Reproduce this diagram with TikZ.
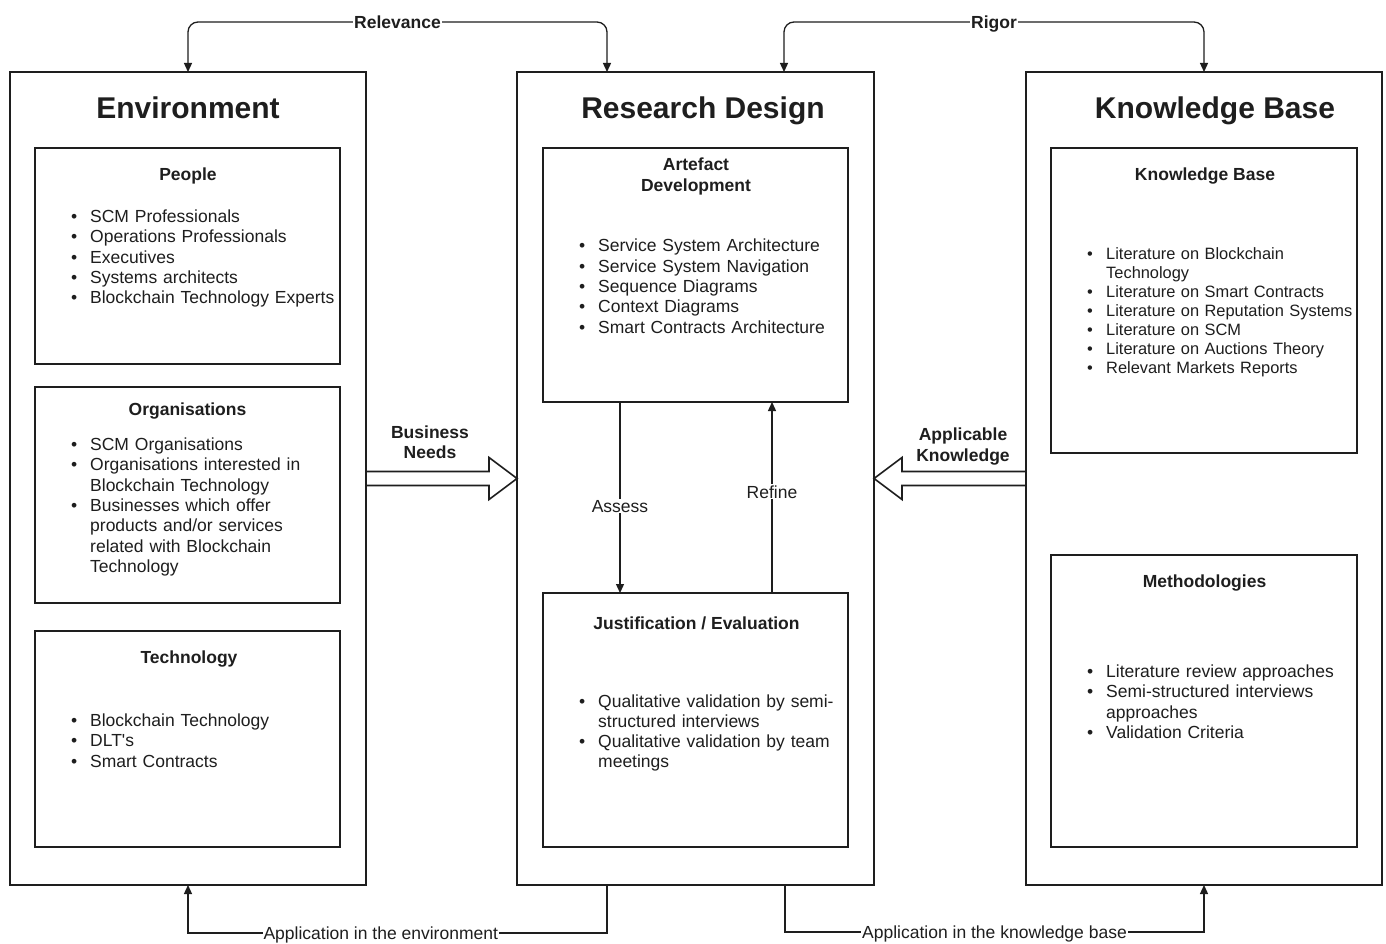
\documentclass[tikz,border=0pt]{standalone}
\usepackage{fontspec}
\setmainfont{Liberation Sans}
\usetikzlibrary{arrows.meta,calc}
\definecolor{ink}{HTML}{1E1E1E}
\newlength{\blhang}
\setlength{\blhang}{19pt}
% one bullet item with a hanging indent for wrapped lines
\newcommand{\bli}[1]{\par\noindent\hangindent=\blhang\hangafter=1\makebox[\blhang][l]{\textbullet}\strut#1}
\newcommand{\fbody}{\fontsize{17.5}{20.3}\selectfont}
\newcommand{\fsmall}{\fontsize{16.4}{19}\selectfont}
\newcommand{\ftitle}{\fontsize{30}{36}\selectfont\bfseries}
\begin{document}
\begin{tikzpicture}[x=1pt,y=-1pt,
  every node/.style={text=ink},
  panel/.style={draw=ink, line width=1.3pt, inner sep=0pt, outer sep=0pt},
  title/.style={font=\ftitle, inner sep=0pt, anchor=base},
  head/.style={font=\fbody\bfseries, inner sep=0pt, anchor=base},
  blist/.style={font=\fbody, inner sep=0pt, anchor=north west, text width=300pt, align=left},
  slist/.style={font=\fsmall, inner sep=0pt, anchor=north west, text width=300pt, align=left},
  conn/.style={draw=ink, line width=1.3pt},
  tip/.style={-{Triangle[length=9pt,width=8pt]}},
  lbl/.style={font=\fbody, fill=white, inner sep=1pt, text height=12.6pt, text depth=0pt},
  blbl/.style={lbl, font=\fbody\bfseries},
  barrow/.style={draw=ink, line width=1.6pt, fill=white, line join=miter}
]
\fill[white] (0,0) rectangle (1386,944);
\useasboundingbox (0,0) rectangle (1386,944);

% the three main panels
\node[panel, minimum width=356pt, minimum height=813pt] (env) at (188,478.5) {};
\node[panel, minimum width=357pt, minimum height=813pt] (rd)  at (695.5,478.5) {};
\node[panel, minimum width=356pt, minimum height=813pt] (kb)  at (1204,478.5) {};

\node[title] (envt) at (188,119) {Environment};
\node[title] (rdt)  at (703,119) {Research Design};
\node[title] (kbt)  at (1215,119) {Knowledge Base};

% Environment
\node[panel, minimum width=305pt, minimum height=216pt] (people) at (187.5,256) {};
\node[panel, minimum width=305pt, minimum height=216pt] (orgs)   at (187.5,495) {};
\node[panel, minimum width=305pt, minimum height=216pt] (tech)   at (187.5,739) {};

\node[head] (peopleh) at (188,180.5) {People};
\node[blist] (peoplel) at (71,202) {%
  \bli{SCM Professionals}
  \bli{Operations Professionals}
  \bli{Executives}
  \bli{Systems architects}
  \bli{Blockchain Technology Experts}\par};

\node[head] (orgsh) at (187.5,415.5) {Organisations};
\node[blist] (orgsl) at (71,430) {%
  \bli{SCM Organisations}
  \bli{Organisations interested in\newline Blockchain Technology}
  \bli{Businesses which offer\newline products and/or services\newline related with Blockchain\newline Technology}\par};

\node[head] (techh) at (189,663.5) {Technology};
\node[blist] (techl) at (71,706) {%
  \bli{Blockchain Technology}
  \bli{DLT\textquotesingle s}
  \bli{Smart Contracts}\par};

% Research Design
\node[panel, minimum width=305pt, minimum height=254pt] (art) at (695.5,275) {};
\node[panel, minimum width=305pt, minimum height=254pt] (jus) at (695.5,720) {};

\node[font=\fbody\bfseries, inner sep=0pt, align=center] (arth) at (696,176.5) {Artefact\\Development};
\node[blist] (artl) at (579,231.5) {%
  \bli{Service System Architecture}
  \bli{Service System Navigation}
  \bli{Sequence Diagrams}
  \bli{Context Diagrams}
  \bli{Smart Contracts Architecture}\par};

\node[head] (jush) at (696.5,629.5) {Justification / Evaluation};
\node[blist] (jusl) at (579,686.5) {%
  \bli{Qualitative validation by semi-\newline structured interviews}
  \bli{Qualitative validation by team\newline meetings}\par};

\draw[conn, tip] ([xshift=77pt]art.south west) -- node[lbl, pos=0.545] (assess) {Assess} ([xshift=77pt]jus.north west);
\draw[conn, tip] ([xshift=229pt]jus.north west) -- node[lbl, pos=0.53] (refine) {Refine} ([xshift=229pt]art.south west);

% Knowledge Base
\node[panel, minimum width=306pt, minimum height=305pt] (kbl)  at (1204,300.5) {};
\node[panel, minimum width=306pt, minimum height=292pt] (meth) at (1204,701) {};

\node[head] (kblh) at (1205,180.5) {Knowledge Base};
\node[slist] (kbll) at (1087,240.5) {%
  \bli{Literature on Blockchain\newline Technology}
  \bli{Literature on Smart Contracts}
  \bli{Literature on Reputation Systems}
  \bli{Literature on SCM}
  \bli{Literature on Auctions Theory}
  \bli{Relevant Markets Reports}\par};

\node[head] (methh) at (1204.5,587.5) {Methodologies};
\node[blist] (methl) at (1087,657) {%
  \bli{Literature review approaches}
  \bli{Semi-structured interviews\newline approaches}
  \bli{Validation Criteria}\par};

% block arrows between the panels
\draw[barrow] ([yshift=7pt]env.east) -| ([xshift=-28pt,yshift=21pt]rd.west) -- (rd.west)
  -- ([xshift=-28pt,yshift=-21pt]rd.west) |- ([yshift=-7pt]env.east) -- cycle;
\node[font=\fbody\bfseries, inner sep=0pt, align=center] (bneeds) at (430,442.5) {Business\\Needs};

\draw[barrow] ([yshift=7pt]kb.west) -| ([xshift=28pt,yshift=21pt]rd.east) -- (rd.east)
  -- ([xshift=28pt,yshift=-21pt]rd.east) |- ([yshift=-7pt]kb.west) -- cycle;
\node[font=\fbody\bfseries, inner sep=0pt, align=center] (aknow) at (963,446.5) {Applicable\\Knowledge};

% cycles above and below
\draw[conn, {Triangle[length=9pt,width=8pt]}-{Triangle[length=9pt,width=8pt]}, rounded corners=10pt]
  (env.north) -- ++(0,-50) -| node[blbl, pos=0.25] (relev) {Relevance} ([xshift=90pt]rd.north west);
\draw[conn, {Triangle[length=9pt,width=8pt]}-{Triangle[length=9pt,width=8pt]}, rounded corners=10pt]
  ([xshift=267pt]rd.north west) -- ++(0,-50) -| node[blbl, pos=0.25] (rigor) {Rigor} (kb.north);

\draw[conn, tip] ([xshift=90pt]rd.south west) -- ++(0,48) -| node[lbl, pos=0.27] (appenv) {Application in the environment} (env.south);
\draw[conn, tip] ([xshift=268pt]rd.south west) -- ++(0,47) -| node[lbl, pos=0.25] (appkb) {Application in the knowledge base} (kb.south);
\end{tikzpicture}
\end{document}
